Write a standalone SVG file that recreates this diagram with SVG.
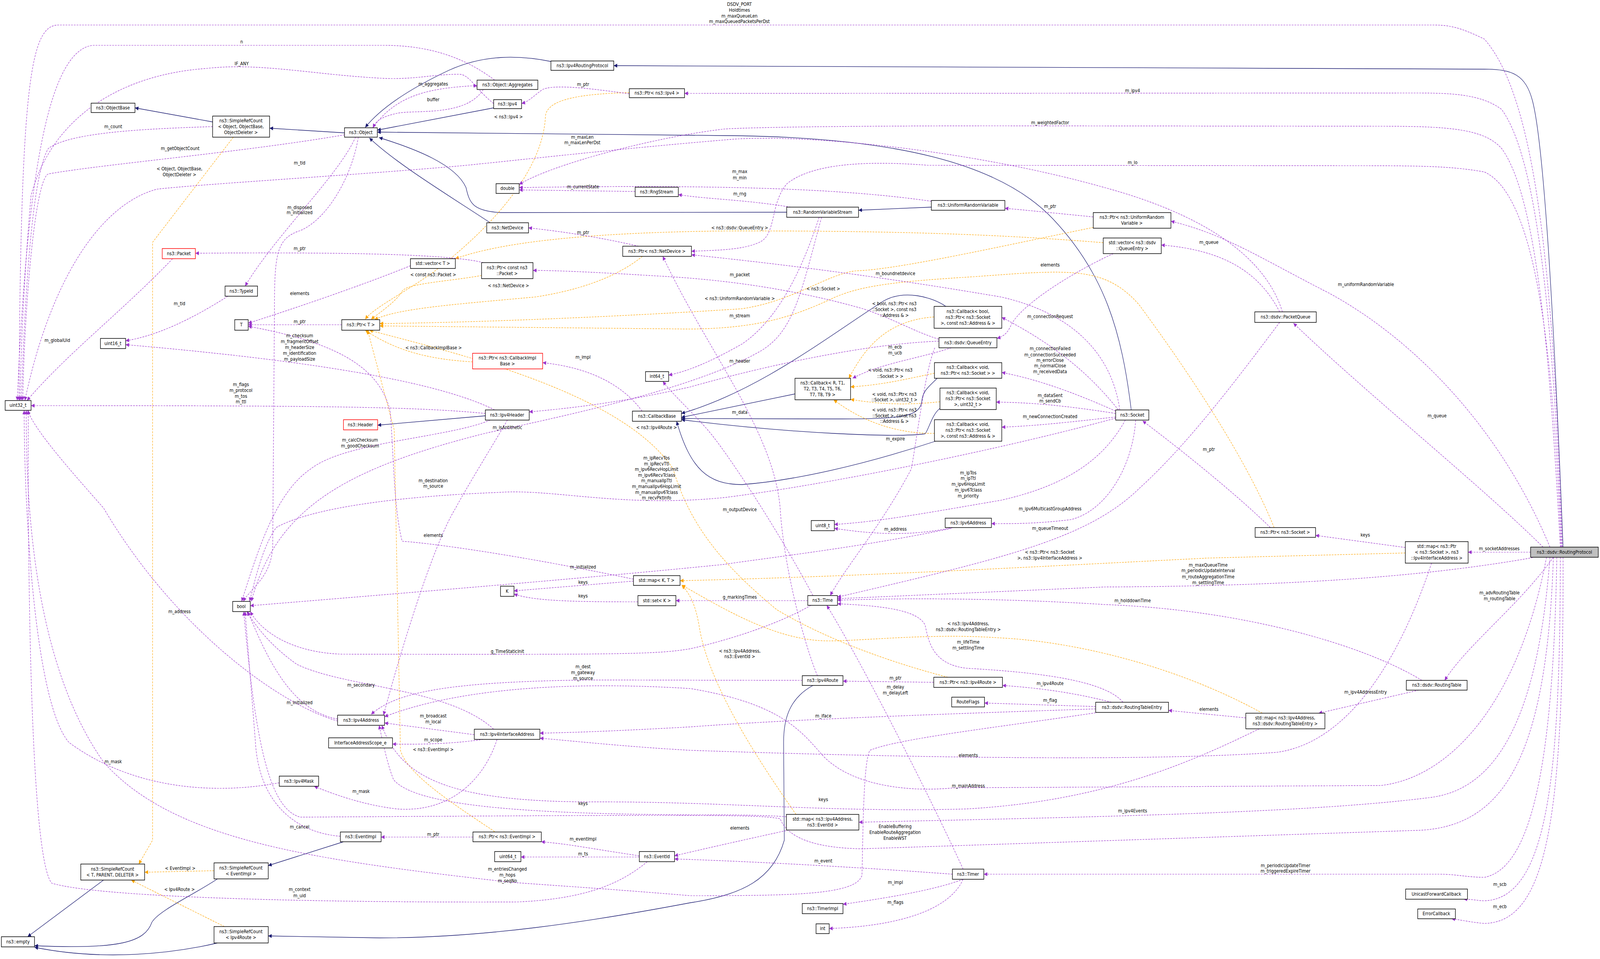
<svg xmlns="http://www.w3.org/2000/svg" width="4635" height="2454" viewBox="0 0 4635 2454" preserveAspectRatio="none" style="width:100vw;height:100vh;display:block">
<style>
rect{fill:#fff;stroke:#000;stroke-width:1.5}
rect.r{stroke:#ff0000}
rect.g{fill:#bfbfbf}
text{font-family:"DejaVu Sans","Liberation Sans",sans-serif;font-size:12px;text-anchor:middle;fill:#000}
.p{fill:none;stroke:#9a32cd;stroke-width:1.2;stroke-dasharray:5,3;marker-end:url(#ap)}
.o{fill:none;stroke:#ffa500;stroke-width:1.2;stroke-dasharray:5,3;marker-end:url(#ao)}
.i{fill:none;stroke:#191970;stroke-width:1.3;marker-end:url(#ai)}
</style>
<defs>
<marker id="ap" viewBox="0 0 10 10" refX="10" refY="5" markerWidth="12" markerHeight="10" markerUnits="userSpaceOnUse" orient="auto"><path d="M0,0L10,5L0,10z" fill="#9a32cd"/></marker>
<marker id="ao" viewBox="0 0 10 10" refX="10" refY="5" markerWidth="12" markerHeight="10" markerUnits="userSpaceOnUse" orient="auto"><path d="M0,0L10,5L0,10z" fill="#ffa500"/></marker>
<marker id="ai" viewBox="0 0 10 10" refX="10" refY="5" markerWidth="12" markerHeight="10" markerUnits="userSpaceOnUse" orient="auto"><path d="M0,0L10,5L0,10z" fill="#191970"/></marker>
</defs>
<rect x="0" y="0" width="4635" height="2454" style="fill:#fff;stroke:none"/>
<g id="edges">
<path class="i" d="M4528,1400 C4510,1000 4480,400 4440,260 C4420,190 4380,177 4300,177 L1778,168"/>
<path class="i" d="M1600,158 C1500,140 1400,140 1300,180 C1180,230 1100,280 1058,326"/>
<path class="i" d="M1430,276 L1093,333"/>
<path class="i" d="M998,340 L781,328"/>
<path class="i" d="M616,312 L391,276"/>
<path class="i" d="M2279,543 L1450,544 C1370,540 1360,520 1350,480 C1320,420 1200,380 1098,352"/>
<path class="i" d="M1420,570 C1300,500 1150,420 1070,353"/>
<path class="i" d="M3277,1049 C3250,850 3200,700 3050,560 C2900,420 2600,350 2100,347 L1093,338"/>
<path class="i" d="M2698,530 L2487,538"/>
<path class="i" d="M2303,1008 L1974,1068"/>
<path class="i" d="M2740,784 C2700,760 2620,740 2560,770 C2400,860 2200,1000 1974,1058"/>
<path class="i" d="M2715,968 C2690,990 2672,1000 2670,1030 C2660,1070 2600,1072 2400,1072 L1974,1071"/>
<path class="i" d="M2723,1045 C2700,1060 2690,1100 2680,1110 C2600,1120 2300,1110 1974,1074"/>
<path class="i" d="M2710,1129 C2500,1190 2300,1230 2150,1240 C2050,1240 2000,1200 1960,1078"/>
<path class="i" d="M1406,1064 L1094,1088"/>
<path class="i" d="M995,2154 L777,2215"/>
<path class="i" d="M300,2252 L80,2397"/>
<path class="i" d="M630,2249 C560,2290 460,2330 440,2360 C420,2410 350,2430 100,2420"/>
<path class="i" d="M630,2413 C500,2440 300,2460 100,2424"/>
<path class="i" d="M2355,1754 C2280,1790 2270,1850 2270,1900 L2272,2150 C2240,2250 2150,2290 2000,2310 C1700,2360 1400,2400 1100,2400 L777,2395"/>

<path class="o" d="M676,351 L442,620 L442,2150 L402,2211"/>
<path class="o" d="M620,2228 L419,2232"/>
<path class="o" d="M650,2371 L380,2252"/>
<path class="o" d="M1823,237 C1700,240 1580,250 1580,300 C1570,450 1400,600 1250,700 C1150,760 1080,790 1058,817"/>
<path class="o" d="M1861,656 C1800,700 1700,740 1550,760 C1300,780 1150,790 1085,818"/>
<path class="o" d="M1395,705 C1300,720 1180,725 1165,745 C1150,770 1100,800 1075,817"/>
<path class="o" d="M1369,926 C1250,920 1150,900 1058,845"/>
<path class="o" d="M3167,582 C2900,630 2600,690 2480,693 C2400,700 2300,770 2150,790 C1800,810 1400,825 1100,828"/>
<path class="o" d="M3691,1350 C3600,1150 3400,900 3300,780 C3200,680 3100,690 2823,708 C2600,720 2500,730 2420,760 C2300,810 2200,840 2000,842 L1100,834"/>
<path class="o" d="M2746,1733 C2600,1700 2400,1640 2250,1560 C2100,1450 2000,1350 1950,1200 C1800,1000 1300,900 1070,845"/>
<path class="o" d="M1433,2128 C1300,2050 1180,1980 1160,1920 L1142,1100 L1065,845"/>
<path class="o" d="M3196,621 C2900,600 2600,590 2100,591 C1700,595 1450,620 1319,662"/>
<path class="o" d="M2706,811 C2560,820 2500,900 2459,968"/>
<path class="o" d="M2707,955 C2600,975 2550,985 2464,990"/>
<path class="o" d="M2723,1028 C2600,1040 2520,1030 2464,1022"/>
<path class="o" d="M2707,1109 C2600,1110 2500,1080 2415,1023"/>
<path class="o" d="M4071,1415 L3500,1428 C3000,1450 2500,1475 1970,1486"/>
<path class="o" d="M3657,1825 C3400,1700 3100,1640 2890,1632 C2700,1620 2500,1640 2400,1640 C2250,1640 2100,1560 1975,1497"/>
<path class="o" d="M2306,2084 C2200,1950 2050,1750 2025,1600 C2015,1550 2000,1520 1975,1498"/>

<path class="p" d="M4526,1400 C4500,700 4450,250 4300,100 C4230,70 4200,64 4150,64 L170,64 C90,64 60,200 55,1025"/>
<path class="p" d="M1433,205 C1350,150 1250,116 1111,116 L268,116 C150,130 80,400 50,1025"/>
<path class="p" d="M1430,265 C1380,230 1360,190 1330,190 C1250,190 1200,205 1100,200 C900,190 750,160 600,175 C350,190 150,300 90,500 C70,700 60,900 58,1025"/>
<path class="p" d="M616,324 C400,330 200,340 140,380 C90,450 70,800 62,1025"/>
<path class="p" d="M998,345 C700,390 300,420 140,445 C100,460 70,800 66,1025"/>
<path class="p" d="M3715,798 C3660,640 3450,540 3200,480 C2800,380 2300,340 2100,358 C1800,380 1500,410 1339,424 C1000,450 600,470 455,484 C300,520 150,700 72,1025"/>
<path class="p" d="M3707,825 C3600,950 3450,1130 3300,1250 C3150,1380 2900,1430 2426,1528"/>
<path class="p" d="M4490,1400 C4350,1100 4100,870 3850,750 C3650,660 3550,600 3392,566"/>
<path class="p" d="M3707,798 C3650,700 3550,640 3364,627"/>
<path class="p" d="M4470,1400 C4300,1250 3950,1000 3747,827"/>
<path class="p" d="M3680,1350 C3600,1280 3450,1170 3310,1077"/>
<path class="p" d="M4071,1401 L3811,1370"/>
<path class="p" d="M4434,1413 L4253,1413"/>
<path class="p" d="M4440,1427 C4100,1480 3700,1500 3200,1502 L2426,1532"/>
<path class="p" d="M4119,1741 C3950,1650 3600,1560 3200,1547 C2900,1530 2600,1530 2426,1536"/>
<path class="p" d="M4500,1426 C4400,1550 4250,1650 4185,1741"/>
<path class="p" d="M4110,1766 L3820,1825"/>
<path class="p" d="M3609,1837 L3385,1818"/>
<path class="p" d="M3220,1797 C3100,1770 3000,1760 2904,1754"/>
<path class="p" d="M3174,1808 L2852,1799"/>
<path class="p" d="M3174,1814 C2800,1825 2300,1840 2000,1860 C1800,1870 1650,1875 1564,1876"/>
<path class="p" d="M3253,1797 C3200,1740 3000,1720 2800,1710 C2700,1700 2690,1640 2680,1600 C2660,1560 2550,1550 2426,1545"/>
<path class="p" d="M3174,1824 C2900,1860 2600,1890 2520,1920 C2500,1950 2500,2150 2497,2240 C2480,2290 2300,2292 2000,2292 C1700,2270 1500,2260 1473,2257 C900,2200 500,2150 300,1950 C100,1700 75,1300 76,1050"/>
<path class="p" d="M2705,1746 L2442,1743"/>
<path class="p" d="M2324,1741 L1700,1740 C1300,1745 1150,1770 1075,1828"/>
<path class="p" d="M2368,1729 C2330,1650 2270,1450 2260,1300 C2240,1100 2050,900 1920,656"/>
<path class="p" d="M3244,1049 C3220,900 3100,800 2900,760 C2500,700 2200,670 2003,652"/>
<path class="p" d="M4522,1400 C4500,900 4450,500 4300,440 C4200,424 4100,424 3900,424 L2689,423 C2500,410 2350,420 2280,470 C2230,520 2250,600 2200,620 C2150,640 2080,640 2003,643"/>
<path class="p" d="M4524,1400 C4500,800 4450,400 4350,280 C4290,240 4200,238 4100,238 L1983,239"/>
<path class="p" d="M4520,1400 C4490,900 4450,500 4350,380 C4300,330 4200,323 4000,323 L2900,322 C2500,322 2200,325 2100,330 C1900,350 1600,420 1504,472"/>
<path class="p" d="M2698,515 C2500,490 2200,470 1504,480"/>
<path class="p" d="M1840,490 L1504,486"/>
<path class="p" d="M2290,530 C2150,510 2050,510 1965,498"/>
<path class="p" d="M3167,555 C3050,545 3000,540 2911,533"/>
<path class="p" d="M1850,630 C1700,600 1600,590 1531,583"/>
<path class="p" d="M1400,672 C1300,650 1000,645 566,648"/>
<path class="p" d="M2727,870 C2650,850 2600,820 2500,790 C2300,740 2100,715 1900,706 C1700,695 1600,692 1544,692"/>
<path class="p" d="M2756,890 C2650,920 2550,930 2470,968"/>
<path class="p" d="M2720,873 C2500,880 2200,940 2000,990 C1800,1030 1650,1045 1533,1054"/>
<path class="p" d="M2708,890 C2680,950 2660,1100 2640,1200 C2550,1350 2450,1450 2405,1524"/>
<path class="p" d="M3225,649 C3100,700 2960,780 2930,830 C2920,850 2910,860 2888,866"/>
<path class="p" d="M3240,1049 C3150,950 3050,880 2902,812"/>
<path class="p" d="M3232,1052 C3100,1000 3000,970 2902,953"/>
<path class="p" d="M3232,1058 C3100,1040 3000,1030 2886,1029"/>
<path class="p" d="M3232,1067 C3100,1080 3000,1090 2902,1093"/>
<path class="p" d="M3260,1075 C3200,1170 3100,1240 2900,1280 C2700,1310 2550,1335 2417,1342"/>
<path class="p" d="M3290,1075 C3280,1200 3200,1310 3100,1330 C3000,1340 2950,1340 2872,1340"/>
<path class="p" d="M2760,1350 C2650,1370 2550,1370 2417,1352"/>
<path class="p" d="M3232,1070 C2900,1150 2400,1240 2100,1273 C1800,1300 1600,1250 1446,1260 C1150,1270 900,1300 800,1350 C760,1400 740,1480 723,1539"/>
<path class="p" d="M2756,1352 C2500,1400 2200,1430 2100,1444 C1700,1480 1000,1530 725,1550"/>
<path class="p" d="M2340,1537 L1958,1537"/>
<path class="p" d="M2349,1549 C2250,1600 2100,1640 2000,1660 C1900,1675 1800,1675 991,1674 C850,1670 760,1620 725,1565"/>
<path class="p" d="M1835,1487 L1489,1512"/>
<path class="p" d="M1848,1540 C1700,1540 1550,1540 1489,1520"/>
<path class="p" d="M1835,1482 C1500,1420 1250,1390 1165,1385 C1140,1300 1140,1150 1130,1050 C1100,950 1000,880 719,835"/>
<path class="p" d="M1189,680 C1050,730 850,790 719,827"/>
<path class="p" d="M990,831 L719,831"/>
<path class="p" d="M660,758 C550,820 450,860 364,872"/>
<path class="p" d="M1030,351 C980,450 800,600 710,732"/>
<path class="p" d="M1038,351 C1020,450 950,560 870,590 C800,610 795,650 795,800 L790,1400 C785,1480 720,1510 705,1539"/>
<path class="p" d="M500,662 C350,800 200,900 78,1025"/>
<path class="p" d="M1406,1058 C1200,1040 900,1038 90,1038"/>
<path class="p" d="M1433,1049 C1300,990 1000,930 364,882"/>
<path class="p" d="M1420,1075 C1300,1120 1000,1130 900,1200 C800,1260 750,1400 700,1539"/>
<path class="p" d="M1470,1075 C1420,1150 1350,1250 1320,1300 C1250,1400 1150,1700 1111,1830"/>
<path class="p" d="M978,1845 C800,1800 500,1600 300,1300 C200,1200 100,1100 80,1050"/>
<path class="p" d="M978,1840 C850,1820 780,1700 718,1565"/>
<path class="p" d="M1374,1880 L1114,1850"/>
<path class="p" d="M1430,1866 C1300,1760 1000,1760 860,1700 C780,1650 740,1600 715,1565"/>
<path class="p" d="M1400,1892 C1300,1905 1200,1905 1137,1904"/>
<path class="p" d="M1440,1892 C1400,2000 1300,2080 1150,2070 C1050,2060 960,2030 910,2012"/>
<path class="p" d="M809,2003 C650,2030 400,2030 200,1900 C100,1800 70,1300 70,1050"/>
<path class="p" d="M4147,1441 C4050,1700 3900,1900 3700,1925 C3400,1945 2800,1944 2000,1920 C1800,1910 1650,1895 1564,1889"/>
<path class="p" d="M4480,1426 C4400,1800 4200,1990 4000,2010 L2765,2016 C2600,2030 2450,2000 2380,1930 C2320,1870 2260,1800 2000,1762 C1600,1740 1300,1770 1114,1834"/>
<path class="p" d="M3648,1865 C3450,1950 3200,2050 2800,2070 C2400,2080 2100,2050 1700,2052 C1300,2050 1160,1990 1106,1856"/>
<path class="p" d="M2278,2090 C2200,2085 2100,2085 2000,2085 C1500,2083 1200,2060 1140,1995 C1120,1950 1110,1900 1098,1856"/>
<path class="p" d="M2285,2124 C2150,2150 2000,2180 1954,2190"/>
<path class="p" d="M4490,1426 C4450,1900 4300,2020 4150,2040 C3800,2080 3200,2090 2488,2104"/>
<path class="p" d="M4500,1426 C4480,1950 4350,2120 4100,2125 L2497,2172 C2350,2170 2280,2140 2260,2095 C2200,2085 2100,2084 870,2091 C780,2070 740,1900 706,1565"/>
<path class="p" d="M986,2140 C850,2130 750,2050 740,1900 L710,1565"/>
<path class="p" d="M1370,2142 L1104,2142"/>
<path class="p" d="M1852,2190 C1700,2170 1650,2160 1568,2154"/>
<path class="p" d="M1852,2193 L1509,2193"/>
<path class="p" d="M1875,2205 C1800,2260 1700,2300 1500,2308 C1000,2310 300,2300 150,2260 C90,2200 80,1500 82,1050"/>
<path class="p" d="M2759,2237 C2500,2220 2200,2205 1954,2198"/>
<path class="p" d="M2790,2224 C2700,2050 2500,1700 2395,1549"/>
<path class="p" d="M2790,2250 C2700,2280 2550,2300 2442,2314"/>
<path class="p" d="M2790,2250 C2750,2330 2600,2370 2402,2376"/>
<path class="p" d="M4510,1426 C4500,1900 4450,2220 4300,2245 C4250,2245 4220,2237 4170,2237 L2850,2237"/>
<path class="p" d="M4520,1426 C4520,2000 4480,2300 4300,2305 C4280,2305 4270,2301 4240,2301"/>
<path class="p" d="M4528,1426 C4530,2100 4480,2360 4300,2363 C4260,2360 4240,2355 4205,2351"/>
<path class="p" d="M1823,240 C1700,225 1600,215 1570,230 C1540,250 1530,260 1511,265"/>
<path class="p" d="M1080,327 C1150,240 1250,225 1382,219"/>
<path class="p" d="M1400,229 C1350,300 1200,280 1150,290 C1100,300 1090,310 1080,327"/>
<path class="p" d="M1860,1052 C1800,980 1700,940 1572,928"/>
<path class="p" d="M2373,556 C2320,700 2250,820 2150,880 C2050,930 1990,950 1937,960"/>
<path class="p" d="M2355,1524 C2250,1350 2100,1150 2050,1100 C2000,1050 1950,1010 1920,976"/>
<path class="p" d="M2380,556 C2320,750 2300,850 2200,900 C2000,1000 1600,1070 1400,1110 C1000,1200 800,1300 728,1539"/>
</g>
<g id="edge-labels">
<text x="2142" y="15">DSDV_PORT</text><text x="2142" y="30">Holdtimes</text><text x="2142" y="45">m_maxQueueLen</text><text x="2142" y="59">m_maxQueuedPacketsPerDst</text>
<text x="700" y="111">n</text>
<text x="700" y="167">IF_ANY</text>
<text x="328" y="328">m_count</text>
<text x="522" y="384">m_getObjectCount</text>
<text x="520" y="436">&lt; Object, ObjectBase,</text><text x="520" y="451">ObjectDeleter &gt;</text>
<text x="1687" y="355">m_maxLen</text><text x="1687" y="369">m_maxLenPerDst</text>
<text x="3042" y="1356">m_queueTimeout</text>
<text x="3957" y="732">m_uniformRandomVariable</text>
<text x="3502" y="624">m_queue</text>
<text x="4163" y="1068">m_queue</text>
<text x="3502" y="1154">m_ptr</text>
<text x="3955" y="1373">keys</text>
<text x="4343" y="1408">m_socketAddresses</text>
<text x="3500" y="1450">m_maxQueueTime</text><text x="3500" y="1464">m_periodicUpdateInterval</text><text x="3500" y="1480">m_routeAggregationTime</text><text x="3500" y="1495">m_settlingTime</text>
<text x="3281" y="1541">m_holddownTime</text>
<text x="4344" y="1521">m_advRoutingTable</text><text x="4344" y="1536">m_routingTable</text>
<text x="3956" y="1775">m_ipv4AddressEntry</text>
<text x="3502" y="1819">elements</text>
<text x="3042" y="1753">m_ipv4Route</text>
<text x="3042" y="1796">m_flag</text>
<text x="2385" y="1836">m_iface</text>
<text x="2805" y="1647">m_lifeTime</text><text x="2805" y="1662">m_settlingTime</text>
<text x="1470" y="2228">m_entriesChanged</text><text x="1470" y="2243">m_hops</text><text x="1470" y="2258">m_seqNo</text>
<text x="2594" y="1739">m_ptr</text>
<text x="1689" y="1710">m_dest</text><text x="1689" y="1725">m_gateway</text><text x="1689" y="1740">m_source</text>
<text x="2143" y="1308">m_outputDevice</text>
<text x="2594" y="704">m_boundnetdevice</text>
<text x="3281" y="420">m_lo</text>
<text x="3281" y="236">m_ipv4</text>
<text x="3042" y="318">m_weightedFactor</text>
<text x="2143" y="443">m_max</text><text x="2143" y="459">m_min</text>
<text x="1689" y="482">m_currentState</text>
<text x="2143" y="500">m_rng</text>
<text x="3042" y="532">m_ptr</text>
<text x="1689" y="599">m_ptr</text>
<text x="868" y="640">m_ptr</text>
<text x="2143" y="707">m_packet</text>
<text x="2593" y="892">m_ecb</text><text x="2593" y="907">m_ucb</text>
<text x="2143" y="928">m_header</text>
<text x="2594" y="1127">m_expire</text>
<text x="3042" y="682">elements</text>
<text x="3042" y="814">m_connectionRequest</text>
<text x="3042" y="896">m_connectionFailed</text><text x="3042" y="912">m_connectionSucceeded</text><text x="3042" y="926">m_errorClose</text><text x="3042" y="940">m_normalClose</text><text x="3042" y="955">m_receivedData</text>
<text x="3042" y="1016">m_dataSent</text><text x="3042" y="1030">m_sendCb</text>
<text x="3042" y="1070">m_newConnectionCreated</text>
<text x="2805" y="1214">m_ipTos</text><text x="2805" y="1228">m_ipTtl</text><text x="2805" y="1243">m_ipv6HopLimit</text><text x="2805" y="1258">m_ipv6Tclass</text><text x="2805" y="1273">m_priority</text>
<text x="3042" y="1306">m_ipv6MulticastGroupAddress</text>
<text x="2594" y="1358">m_address</text>
<text x="1902" y="1176">m_ipRecvTos</text><text x="1902" y="1191">m_ipRecvTtl</text><text x="1902" y="1205">m_ipv6RecvHopLimit</text><text x="1902" y="1220">m_ipv6RecvTclass</text><text x="1902" y="1234">m_manualIpTtl</text><text x="1902" y="1249">m_manualIpv6HopLimit</text><text x="1902" y="1264">m_manualIpv6Tclass</text><text x="1902" y="1278">m_recvPktInfo</text>
<text x="1689" y="1455">m_initialized</text>
<text x="2143" y="1532">g_markingTimes</text>
<text x="1470" y="1671">g_TimeStaticInit</text>
<text x="1689" y="1494">keys</text>
<text x="1689" y="1529">keys</text>
<text x="1255" y="1374">elements</text>
<text x="868" y="755">elements</text>
<text x="868" y="827">m_ptr</text>
<text x="520" y="781">m_tid</text>
<text x="868" y="421">m_tid</text>
<text x="868" y="535">m_disposed</text><text x="868" y="548">m_initialized</text>
<text x="166" y="875">m_globalUid</text>
<text x="698" y="988">m_flags</text><text x="698" y="1003">m_protocol</text><text x="698" y="1018">m_tos</text><text x="698" y="1032">m_ttl</text>
<text x="868" y="863">m_checksum</text><text x="868" y="878">m_fragmentOffset</text><text x="868" y="893">m_headerSize</text><text x="868" y="908">m_identification</text><text x="868" y="923">m_payloadSize</text>
<text x="1043" y="1130">m_calcChecksum</text><text x="1043" y="1145">m_goodChecksum</text>
<text x="1255" y="1234">m_destination</text><text x="1255" y="1248">m_source</text>
<text x="520" y="1569">m_address</text>
<text x="868" y="1802">m_initialized</text>
<text x="1255" y="1836">m_broadcast</text><text x="1255" y="1851">m_local</text>
<text x="1046" y="1757">m_secondary</text>
<text x="1255" y="1897">m_scope</text>
<text x="1046" y="2029">m_mask</text>
<text x="328" y="1953">m_mask</text>
<text x="2805" y="1937">elements</text>
<text x="2805" y="2015">m_mainAddress</text>
<text x="2385" y="2050">keys</text>
<text x="1689" y="2060">keys</text>
<text x="2143" y="2123">elements</text>
<text x="3281" y="2079">m_ipv4Events</text>
<text x="2593" y="2119">EnableBuffering</text><text x="2593" y="2134">EnableRouteAggregation</text><text x="2593" y="2149">EnableWST</text>
<text x="868" y="2120">m_cancel</text>
<text x="1255" y="2139">m_ptr</text>
<text x="1689" y="2151">m_eventImpl</text>
<text x="1689" y="2189">m_ts</text>
<text x="868" y="2280">m_context</text><text x="868" y="2296">m_uid</text>
<text x="2385" y="2207">m_event</text>
<text x="2594" y="1762">m_delay</text><text x="2594" y="1777">m_delayLeft</text>
<text x="2594" y="2262">m_impl</text>
<text x="2594" y="2313">m_flags</text>
<text x="3724" y="2219">m_periodicUpdateTimer</text><text x="3724" y="2233">m_triggeredExpireTimer</text>
<text x="4345" y="2267">m_scb</text>
<text x="4345" y="2324">m_ecb</text>
<text x="1689" y="220">m_ptr</text>
<text x="1255" y="219">m_aggregates</text>
<text x="1255" y="259">buffer</text>
<text x="1689" y="918">m_impl</text>
<text x="2143" y="812">m_stream</text>
<text x="2143" y="1059">m_data</text>
<text x="1470" y="1098">m_isAntithetic</text>
<text x="1473" y="303">&lt; ns3::Ipv4 &gt;</text>
<text x="1473" y="735">&lt; ns3::NetDevice &gt;</text>
<text x="1255" y="707">&lt; const ns3::Packet &gt;</text>
<text x="1256" y="894">&lt; ns3::CallbackImplBase &gt;</text>
<text x="2143" y="768">&lt; ns3::UniformRandomVariable &gt;</text>
<text x="2385" y="743">&lt; ns3::Socket &gt;</text>
<text x="1902" y="1098">&lt; ns3::Ipv4Route &gt;</text>
<text x="1255" y="1922">&lt; ns3::EventImpl &gt;</text>
<text x="2143" y="587">&lt; ns3::dsdv::QueueEntry &gt;</text>
<text x="2591" y="781">&lt; bool, ns3::Ptr&lt; ns3</text><text x="2591" y="796">::Socket &gt;, const ns3</text><text x="2591" y="811">::Address &amp; &gt;</text>
<text x="2579" y="951">&lt; void, ns3::Ptr&lt; ns3</text><text x="2579" y="967">::Socket &gt; &gt;</text>
<text x="2591" y="1013">&lt; void, ns3::Ptr&lt; ns3</text><text x="2591" y="1027">::Socket &gt;, uint32_t &gt;</text>
<text x="2591" y="1053">&lt; void, ns3::Ptr&lt; ns3</text><text x="2591" y="1068">::Socket &gt;, const ns3</text><text x="2591" y="1082">::Address &amp; &gt;</text>
<text x="3041" y="1417">&lt; ns3::Ptr&lt; ns3::Socket</text><text x="3041" y="1432">&gt;, ns3::Ipv4InterfaceAddress &gt;</text>
<text x="2805" y="1600">&lt; ns3::Ipv4Address,</text><text x="2805" y="1615">ns3::dsdv::RoutingTableEntry &gt;</text>
<text x="2143" y="1670">&lt; ns3::Ipv4Address,</text><text x="2143" y="1684">ns3::EventId &gt;</text>
<text x="522" y="2226">&lt; EventImpl &gt;</text>
<text x="520" y="2280">&lt; Ipv4Route &gt;</text>
</g>
<g id="RoutingProtocol"><rect class="g" x="4434" y="1400" width="196" height="26"/><text x="4532" y="1417">ns3::dsdv::RoutingProtocol</text></g>
<g id="Ipv4RoutingProtocol"><rect x="1596" y="156" width="182" height="24"/><text x="1687" y="172">ns3::Ipv4RoutingProtocol</text></g>
<g id="Aggregates"><rect x="1382" y="205" width="176" height="24"/><text x="1470" y="221">ns3::Object::Aggregates</text></g>
<g id="Ipv4"><rect x="1430" y="255" width="81" height="23"/><text x="1470" y="270">ns3::Ipv4</text></g>
<g id="PtrIpv4"><rect x="1823" y="227" width="160" height="23"/><text x="1903" y="242">ns3::Ptr&lt; ns3::Ipv4 &gt;</text></g>
<g id="ObjectBase"><rect x="264" y="264" width="127" height="24"/><text x="327" y="280">ns3::ObjectBase</text></g>
<g id="SRCObject"><rect x="616" y="297" width="165" height="54"/><text x="698" y="313">ns3::SimpleRefCount</text><text x="698" y="328">&lt; Object, ObjectBase,</text><text x="698" y="343">ObjectDeleter &gt;</text></g>
<g id="Object"><rect x="998" y="327" width="95" height="24"/><text x="1045" y="343">ns3::Object</text></g>
<g id="double"><rect x="1437" y="470" width="67" height="25"/><text x="1470" y="486">double</text></g>
<g id="RngStream"><rect x="1840" y="479" width="125" height="24"/><text x="1902" y="495">ns3::RngStream</text></g>
<g id="RandomVariableStream"><rect x="2279" y="530" width="208" height="26"/><text x="2383" y="547">ns3::RandomVariableStream</text></g>
<g id="UniformRandomVariable"><rect x="2698" y="513" width="213" height="25"/><text x="2804" y="529">ns3::UniformRandomVariable</text></g>
<g id="PtrURV"><rect x="3167" y="544" width="225" height="40"/><text x="3279" y="560">ns3::Ptr&lt; ns3::UniformRandom</text><text x="3279" y="575">Variable &gt;</text></g>
<g id="NetDevice"><rect x="1410" y="570" width="121" height="26"/><text x="1470" y="587">ns3::NetDevice</text></g>
<g id="PtrNetDevice"><rect x="1804" y="630" width="199" height="26"/><text x="1903" y="647">ns3::Ptr&lt; ns3::NetDevice &gt;</text></g>
<g id="VecQueueEntry"><rect x="3196" y="609" width="168" height="40"/><text x="3280" y="625">std::vector&lt; ns3::dsdv</text><text x="3280" y="640">::QueueEntry &gt;</text></g>
<g id="Packet"><rect class="r" x="470" y="636" width="96" height="26"/><text x="518" y="653">ns3::Packet</text></g>
<g id="VecT"><rect x="1189" y="662" width="130" height="25"/><text x="1254" y="678">std::vector&lt; T &gt;</text></g>
<g id="PtrConstPacket"><rect x="1395" y="672" width="149" height="41"/><text x="1469" y="689">ns3::Ptr&lt; const ns3</text><text x="1469" y="704">::Packet &gt;</text></g>
<g id="TypeId"><rect x="652" y="732" width="94" height="26"/><text x="699" y="749">ns3::TypeId</text></g>
<g id="T"><rect x="680" y="818" width="39" height="27"/><text x="699" y="835">T</text></g>
<g id="PtrT"><rect x="990" y="818" width="110" height="27"/><text x="1045" y="835">ns3::Ptr&lt; T &gt;</text></g>
<g id="uint16"><rect x="291" y="866" width="73" height="26"/><text x="327" y="883">uint16_t</text></g>
<g id="PacketQueue"><rect x="3635" y="798" width="178" height="27"/><text x="3724" y="815">ns3::dsdv::PacketQueue</text></g>
<g id="CallbackBool"><rect x="2706" y="784" width="196" height="56"/><text x="2804" y="801">ns3::Callback&lt; bool,</text><text x="2804" y="816">ns3::Ptr&lt; ns3::Socket</text><text x="2804" y="831">&gt;, const ns3::Address &amp; &gt;</text></g>
<g id="QueueEntry"><rect x="2720" y="864" width="168" height="26"/><text x="2804" y="881">ns3::dsdv::QueueEntry</text></g>
<g id="CallbackVoidSocket"><rect x="2707" y="928" width="195" height="40"/><text x="2804" y="944">ns3::Callback&lt; void,</text><text x="2804" y="959">ns3::Ptr&lt; ns3::Socket &gt; &gt;</text></g>
<g id="CallbackVoidU32"><rect x="2723" y="993" width="163" height="55"/><text x="2804" y="1009">ns3::Callback&lt; void,</text><text x="2804" y="1024">ns3::Ptr&lt; ns3::Socket</text><text x="2804" y="1039">&gt;, uint32_t &gt;</text></g>
<g id="CallbackVoidAddr"><rect x="2707" y="1074" width="195" height="55"/><text x="2804" y="1090">ns3::Callback&lt; void,</text><text x="2804" y="1105">ns3::Ptr&lt; ns3::Socket</text><text x="2804" y="1120">&gt;, const ns3::Address &amp; &gt;</text></g>
<g id="Socket"><rect x="3232" y="1049" width="96" height="26"/><text x="3280" y="1066">ns3::Socket</text></g>
<g id="CallbackR"><rect x="2303" y="968" width="161" height="55"/><text x="2383" y="984">ns3::Callback&lt; R, T1,</text><text x="2383" y="999">T2, T3, T4, T5, T6,</text><text x="2383" y="1014">T7, T8, T9 &gt;</text></g>
<g id="PtrCallbackImplBase"><rect class="r" x="1369" y="904" width="203" height="40"/><text x="1470" y="920">ns3::Ptr&lt; ns3::CallbackImpl</text><text x="1470" y="935">Base &gt;</text></g>
<g id="int64"><rect x="1870" y="951" width="67" height="25"/><text x="1903" y="967">int64_t</text></g>
<g id="CallbackBase"><rect x="1832" y="1052" width="142" height="26"/><text x="1903" y="1069">ns3::CallbackBase</text></g>
<g id="Ipv4Header"><rect x="1406" y="1049" width="127" height="26"/><text x="1469" y="1066">ns3::Ipv4Header</text></g>
<g id="Header"><rect class="r" x="995" y="1074" width="99" height="26"/><text x="1044" y="1091">ns3::Header</text></g>
<g id="uint32"><rect x="15" y="1025" width="75" height="25"/><text x="52" y="1041">uint32_t</text></g>
<g id="uint8"><rect x="2350" y="1332" width="67" height="26"/><text x="2383" y="1349">uint8_t</text></g>
<g id="Ipv6Address"><rect x="2738" y="1326" width="134" height="24"/><text x="2805" y="1342">ns3::Ipv6Address</text></g>
<g id="PtrSocket"><rect x="3636" y="1350" width="175" height="25"/><text x="3723" y="1366">ns3::Ptr&lt; ns3::Socket &gt;</text></g>
<g id="MapSocket"><rect x="4071" y="1386" width="182" height="55"/><text x="4162" y="1402">std::map&lt; ns3::Ptr</text><text x="4162" y="1417">&lt; ns3::Socket &gt;, ns3</text><text x="4162" y="1432">::Ipv4InterfaceAddress &gt;</text></g>
<g id="RoutingTable"><rect x="4074" y="1741" width="176" height="25"/><text x="4162" y="1757">ns3::dsdv::RoutingTable</text></g>
<g id="MapRTE"><rect x="3609" y="1825" width="229" height="40"/><text x="3723" y="1841">std::map&lt; ns3::Ipv4Address,</text><text x="3723" y="1856">ns3::dsdv::RoutingTableEntry &gt;</text></g>
<g id="RoutingTableEntry"><rect x="3174" y="1797" width="211" height="26"/><text x="3279" y="1814">ns3::dsdv::RoutingTableEntry</text></g>
<g id="MapKT"><rect x="1835" y="1473" width="135" height="25"/><text x="1902" y="1489">std::map&lt; K, T &gt;</text></g>
<g id="K"><rect x="1450" y="1500" width="39" height="26"/><text x="1469" y="1517">K</text></g>
<g id="SetK"><rect x="1848" y="1524" width="110" height="26"/><text x="1903" y="1541">std::set&lt; K &gt;</text></g>
<g id="Time"><rect x="2340" y="1524" width="86" height="25"/><text x="2383" y="1540">ns3::Time</text></g>
<g id="bool"><rect x="674" y="1539" width="51" height="26"/><text x="699" y="1556">bool</text></g>
<g id="Ipv4Address"><rect x="978" y="1830" width="136" height="26"/><text x="1046" y="1847">ns3::Ipv4Address</text></g>
<g id="Ipv4Route"><rect x="2324" y="1729" width="118" height="25"/><text x="2383" y="1745">ns3::Ipv4Route</text></g>
<g id="PtrIpv4Route"><rect x="2705" y="1733" width="199" height="26"/><text x="2804" y="1750">ns3::Ptr&lt; ns3::Ipv4Route &gt;</text></g>
<g id="RouteFlags"><rect x="2757" y="1784" width="95" height="25"/><text x="2804" y="1800">RouteFlags</text></g>
<g id="Ipv4InterfaceAddress"><rect x="1374" y="1866" width="190" height="26"/><text x="1469" y="1883">ns3::Ipv4InterfaceAddress</text></g>
<g id="InterfaceAddressScope"><rect x="952" y="1888" width="185" height="26"/><text x="1044" y="1905">InterfaceAddressScope_e</text></g>
<g id="Ipv4Mask"><rect x="809" y="1986" width="114" height="26"/><text x="866" y="2003">ns3::Ipv4Mask</text></g>
<g id="MapEvent"><rect x="2278" y="2084" width="210" height="40"/><text x="2383" y="2100">std::map&lt; ns3::Ipv4Address,</text><text x="2383" y="2115">ns3::EventId &gt;</text></g>
<g id="EventImpl"><rect x="986" y="2129" width="118" height="25"/><text x="1045" y="2145">ns3::EventImpl</text></g>
<g id="PtrEventImpl"><rect x="1370" y="2129" width="198" height="25"/><text x="1469" y="2145">ns3::Ptr&lt; ns3::EventImpl &gt;</text></g>
<g id="uint64"><rect x="1433" y="2179" width="76" height="26"/><text x="1471" y="2196">uint64_t</text></g>
<g id="EventId"><rect x="1852" y="2179" width="102" height="26"/><text x="1903" y="2196">ns3::EventId</text></g>
<g id="Timer"><rect x="2759" y="2224" width="91" height="26"/><text x="2804" y="2241">ns3::Timer</text></g>
<g id="SRCEventImpl"><rect x="620" y="2208" width="157" height="41"/><text x="698" y="2225">ns3::SimpleRefCount</text><text x="698" y="2240">&lt; EventImpl &gt;</text></g>
<g id="SRCT"><rect x="234" y="2211" width="185" height="41"/><text x="326" y="2228">ns3::SimpleRefCount</text><text x="326" y="2243">&lt; T, PARENT, DELETER &gt;</text></g>
<g id="empty"><rect x="4" y="2397" width="96" height="26"/><text x="52" y="2414">ns3::empty</text></g>
<g id="SRCIpv4Route"><rect x="620" y="2371" width="157" height="42"/><text x="698" y="2388">ns3::SimpleRefCount</text><text x="698" y="2403">&lt; Ipv4Route &gt;</text></g>
<g id="TimerImpl"><rect x="2324" y="2312" width="118" height="26"/><text x="2383" y="2329">ns3::TimerImpl</text></g>
<g id="int"><rect x="2364" y="2364" width="38" height="25"/><text x="2383" y="2380">int</text></g>
<g id="UnicastForwardCallback"><rect x="4072" y="2275" width="179" height="26"/><text x="4161" y="2292">UnicastForwardCallback</text></g>
<g id="ErrorCallback"><rect x="4107" y="2326" width="109" height="25"/><text x="4161" y="2342">ErrorCallback</text></g>
</svg>
